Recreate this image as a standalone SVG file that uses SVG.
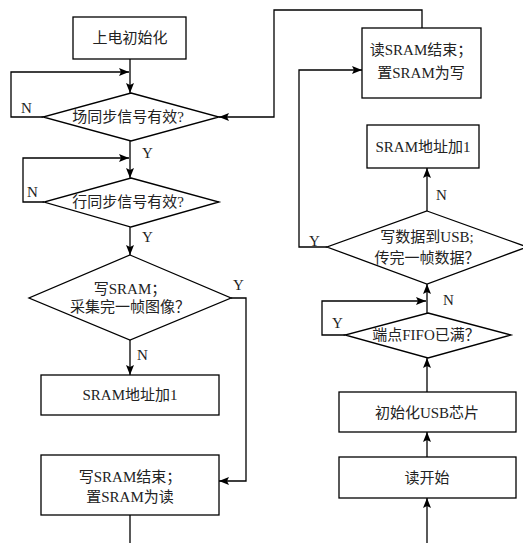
<svg xmlns="http://www.w3.org/2000/svg" width="523" height="543" viewBox="0 0 523 543">
<style>
.s{fill:#fff;stroke:#000;stroke-width:1.3}
.c{fill:none;stroke:#000;stroke-width:1.3}
text{font-family:"Liberation Serif","Noto Sans CJK SC",serif;font-size:15px;fill:#222}
.m{text-anchor:middle}
</style>
<defs>
<marker id="a" viewBox="0 0 10 8" refX="10" refY="4" markerWidth="10" markerHeight="8" markerUnits="userSpaceOnUse" orient="auto">
<path d="M0,0 L10,4 L0,8 L2,4 Z" fill="#000"/>
</marker>
</defs>
<rect width="523" height="543" fill="#fff"/>
<g id="connectors">
<path class="c" d="M130,59 V93" marker-end="url(#a)"/>
<path class="c" d="M43,117 H11 V72 H129" marker-end="url(#a)"/>
<path class="c" d="M130,141 V178" marker-end="url(#a)"/>
<path class="c" d="M44,202 H23 V158 H129" marker-end="url(#a)"/>
<path class="c" d="M130,227 V255" marker-end="url(#a)"/>
<path class="c" d="M130,340 V375" marker-end="url(#a)"/>
<path class="c" d="M231,298 H246 V481 H219" marker-end="url(#a)"/>
<path class="c" d="M130,515 V543"/>
<path class="c" d="M427,543 V498" marker-end="url(#a)"/>
<path class="c" d="M427,457 V432" marker-end="url(#a)"/>
<path class="c" d="M427,392 V358" marker-end="url(#a)"/>
<path class="c" d="M345,335 H322 V301 H426" marker-end="url(#a)"/>
<path class="c" d="M427,313 V284" marker-end="url(#a)"/>
<path class="c" d="M427,211 V168" marker-end="url(#a)"/>
<path class="c" d="M327,247 H299 V70 H362" marker-end="url(#a)"/>
<path class="c" d="M422,28 V10 H274 V117 H219" marker-end="url(#a)"/>
<text x="21" y="113">N</text>
<text x="27" y="197">N</text>
<text x="142" y="158">Y</text>
<text x="142" y="242">Y</text>
<text x="233" y="290">Y</text>
<text x="137" y="360">N</text>
<text x="436" y="200">N</text>
<text x="309" y="246">Y</text>
<text x="443" y="305">N</text>
<text x="332" y="328">Y</text>
</g>
<g id="n1"><rect class="s" x="73" y="17" width="113" height="42"/><text class="m" x="130" y="43">上电初始化</text></g>
<g id="n2"><path class="s" d="M131,93 L219,117 L131,141 L43,117 Z"/><text class="m" x="128" y="122">场同步信号有效?</text></g>
<g id="n3"><path class="s" d="M131,178 L219,202 L131,227 L44,202 Z"/><text class="m" x="128" y="207">行同步信号有效?</text></g>
<g id="n4"><path class="s" d="M130,255 L231,298 L130,340 L29,298 Z"/><text class="m" x="130" y="294">写SRAM；</text><text class="m" x="130" y="312">采集完一帧图像？</text></g>
<g id="n5"><rect class="s" x="41" y="375" width="178" height="40"/><text class="m" x="130" y="400">SRAM地址加1</text></g>
<g id="n6"><rect class="s" x="41" y="455" width="178" height="60"/><text class="m" x="130" y="482">写SRAM结束；</text><text class="m" x="130" y="502">置SRAM为读</text></g>
<g id="n7"><rect class="s" x="362" y="28" width="119" height="70"/><text class="m" x="421" y="55">读SRAM结束；</text><text class="m" x="421" y="78">置SRAM为写</text></g>
<g id="n8"><rect class="s" x="367" y="125" width="112" height="43"/><text class="m" x="423" y="152">SRAM地址加1</text></g>
<g id="n9"><path class="s" d="M427,211 L527,247 L427,284 L327,247 Z"/><text class="m" x="427" y="242">写数据到USB;</text><text class="m" x="427" y="263">传完一帧数据？</text></g>
<g id="n10"><path class="s" d="M428,313 L511,335 L428,358 L345,335 Z"/><text class="m" x="426" y="340">端点FIFO已满？</text></g>
<g id="n11"><rect class="s" x="339" y="392" width="177" height="40"/><text class="m" x="427" y="418">初始化USB芯片</text></g>
<g id="n12"><rect class="s" x="339" y="457" width="177" height="41"/><text class="m" x="427" y="483">读开始</text></g>
</svg>
